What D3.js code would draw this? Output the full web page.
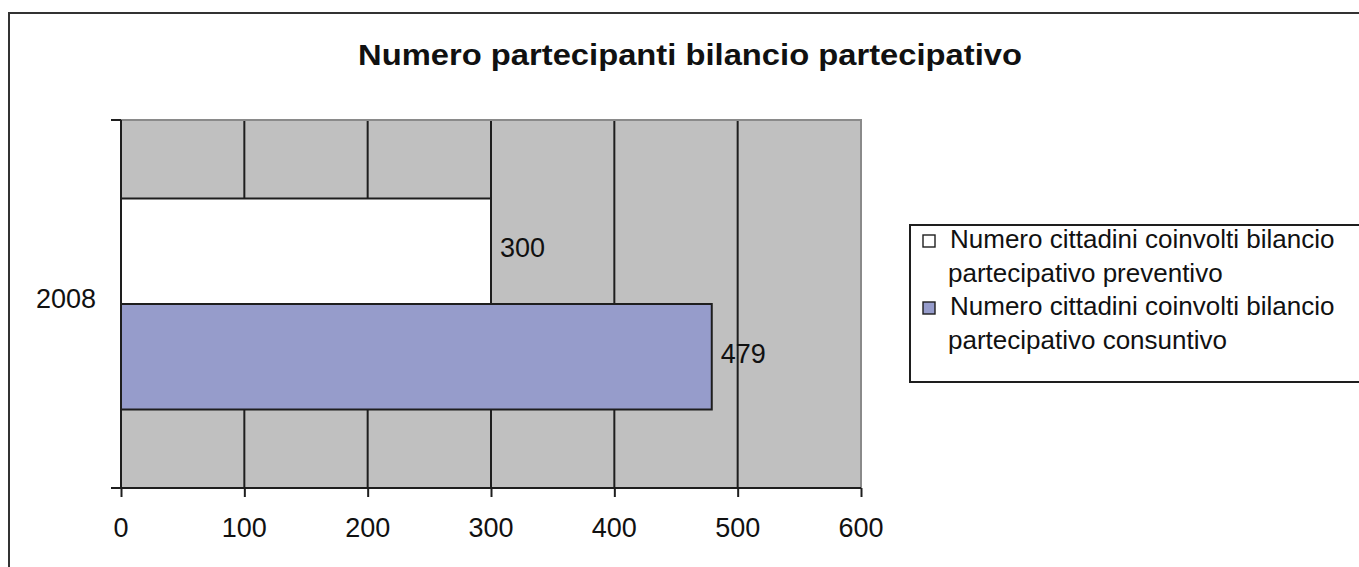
<!DOCTYPE html>
<html>
<head>
<meta charset="utf-8">
<script src="https://cdn.jsdelivr.net/npm/d3@7"></script>
<style>
  body { margin: 0; background: #fff; }
  svg { display: block; }
  text { font-family: "Liberation Sans", Arial, sans-serif; fill: #111; }
</style>
</head>
<body>
<div id="container"></div>
<script>
// chart data
const categories = ["2008"];
const seriesNames = [
    ["Numero cittadini coinvolti bilancio", "partecipativo preventivo"],
    ["Numero cittadini coinvolti bilancio", "partecipativo consuntivo"]
];
const seriesColors = ["#ffffff", "#969ccb"];
const preventivo = [300];
const consuntivo = [479];
const xTicks = [0, 100, 200, 300, 400, 500, 600];

const width = 1359;
const height = 567;
const plot = { left: 121, right: 861, top: 120, bottom: 488 };

const svg = d3.select("#container")
    .append("svg")
    .attr("width", width)
    .attr("height", height);

// outer frame (only top and left edges are visible)
svg.append("path")
    .attr("d", `M9,${height} V13 H${width + 5}`)
    .attr("fill", "none")
    .attr("stroke", "#333")
    .attr("stroke-width", 2);

function label(g, x, y, str, size, anchor) {
    return g.append("text")
        .attr("x", x)
        .attr("y", y)
        .attr("text-anchor", anchor || "start")
        .attr("font-size", size)
        .text(str);
}

svg.append("text")
    .attr("x", 690)
    .attr("y", 65)
    .attr("text-anchor", "middle")
    .attr("font-size", 30)
    .attr("font-weight", "bold")
    .attr("textLength", 664)
    .attr("lengthAdjust", "spacingAndGlyphs")
    .text("Numero partecipanti bilancio partecipativo");

const x = d3.scaleLinear()
    .domain([0, 600])
    .range([plot.left, plot.right]);

const y = d3.scaleBand()
    .domain(categories)
    .range([plot.top, plot.bottom])
    .paddingInner(0)
    .paddingOuter(0.372);

const inner = d3.scaleBand()
    .domain([0, 1])
    .range([0, y.bandwidth()]);

// plot background
svg.append("rect")
    .attr("x", plot.left)
    .attr("y", plot.top)
    .attr("width", plot.right - plot.left)
    .attr("height", plot.bottom - plot.top)
    .attr("fill", "#c0c0c0");

// gridlines
svg.append("g")
    .selectAll("line")
    .data(xTicks.slice(1, -1))
    .join("line")
    .attr("x1", d => x(d))
    .attr("x2", d => x(d))
    .attr("y1", plot.top)
    .attr("y2", plot.bottom)
    .attr("stroke", "#1e1e1e")
    .attr("stroke-width", 2);

// top / right plot border
svg.append("path")
    .attr("d", `M${plot.left},${plot.top} H${plot.right} V${plot.bottom}`)
    .attr("fill", "none")
    .attr("stroke", "#8a8a8a")
    .attr("stroke-width", 2);

// bars
const series = [preventivo, consuntivo];
series.forEach((vals, si) => {
    svg.append("g").selectAll("rect")
        .data(categories.map((c, i) => ({ c, v: vals[i] })))
        .join("rect")
        .attr("x", x(0))
        .attr("y", d => y(d.c) + inner(si))
        .attr("width", d => x(d.v) - x(0))
        .attr("height", inner.bandwidth())
        .attr("fill", seriesColors[si])
        .attr("stroke", "#1e1e1e")
        .attr("stroke-width", 2);

    categories.forEach((c, i) => {
        label(svg, x(vals[i]) + 9, y(c) + inner(si) + inner.bandwidth() / 2 + 6, vals[i], 27);
    });
});

// x axis
const xAxis = svg.append("g")
    .attr("transform", `translate(0,${plot.bottom})`)
    .call(d3.axisBottom(x).tickValues(xTicks).tickSize(9).tickSizeOuter(0).tickFormat(""));
xAxis.select(".domain")
    .attr("d", `M${plot.left - 10},0 H${plot.right}`);
xAxis.selectAll("path, line").attr("stroke", "#1e1e1e").attr("stroke-width", 2);
xTicks.forEach(t => label(svg, x(t), 537, t, 27, "middle"));

// y axis
const yAxis = svg.append("g")
    .attr("transform", `translate(${plot.left},0)`);
yAxis.append("line")
    .attr("y1", plot.top).attr("y2", plot.bottom)
    .attr("stroke", "#1e1e1e").attr("stroke-width", 2);
yAxis.selectAll(".ytick")
    .data([plot.top, plot.bottom])
    .join("line")
    .attr("class", "ytick")
    .attr("x1", -10).attr("x2", 0)
    .attr("y1", d => d).attr("y2", d => d)
    .attr("stroke", "#1e1e1e").attr("stroke-width", 2);
categories.forEach(c => label(svg, 96, y(c) + y.bandwidth() / 2 + 4, c, 27, "end"));

// legend
const legend = svg.append("g");
legend.append("rect")
    .attr("x", 910).attr("y", 225)
    .attr("width", 500).attr("height", 157)
    .attr("fill", "#fff")
    .attr("stroke", "#1e1e1e")
    .attr("stroke-width", 2);
seriesNames.forEach((lines, i) => {
    const base = 248 + i * 67;
    legend.append("rect")
        .attr("x", 923).attr("y", base - 13)
        .attr("width", 12).attr("height", 12)
        .attr("fill", seriesColors[i])
        .attr("stroke", "#1e1e1e")
        .attr("stroke-width", 1.4);
    label(legend, 950, base, lines[0], 26);
    label(legend, 948, base + 34, lines[1], 26);
});
</script>
</body>
</html>
